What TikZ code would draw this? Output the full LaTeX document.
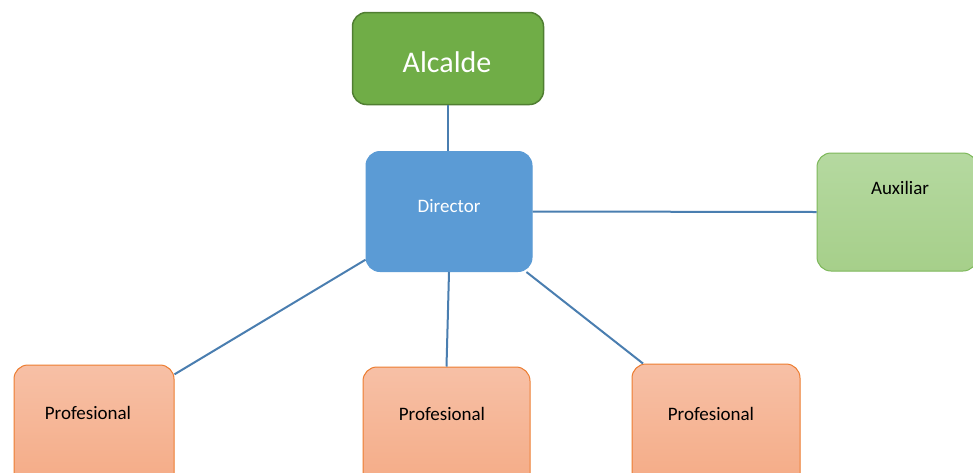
\documentclass[tikz,border=0pt]{standalone}
\usepackage{fontspec}
\setmainfont{Carlito}
\begin{document}
\begin{tikzpicture}[x=1pt,y=-1pt,
  conn/.style={draw=linecol,line width=2pt},
  boxbase/.style={rectangle,rounded corners=14pt,inner sep=0pt},
  alc/.style={boxbase,fill=alcfill,draw=alcdraw,line width=1.5pt},
  dir/.style={boxbase,fill=dirfill,draw=dirfill,line width=1pt},
  aux/.style={boxbase,top color=auxtop,bottom color=auxbot,draw=auxdraw,line width=1pt},
  prof/.style={boxbase,top color=proftop,bottom color=profbot,draw=profdraw,line width=1pt},
  lbl/.style={inner sep=0pt,anchor=center,font=\fontsize{19}{22}\selectfont}
]
\definecolor{linecol}{HTML}{4A7EB0}
\definecolor{alcfill}{HTML}{70AD47}
\definecolor{alcdraw}{HTML}{507E32}
\definecolor{dirfill}{HTML}{5B9BD5}
\definecolor{auxtop}{HTML}{B5D9A0}
\definecolor{auxbot}{HTML}{A6CF8A}
\definecolor{auxdraw}{HTML}{7DB85A}
\definecolor{proftop}{HTML}{F7C0A6}
\definecolor{profbot}{HTML}{F4A881}
\definecolor{profdraw}{HTML}{ED7D31}
\fill[white] (0,0) rectangle (973,472);
\useasboundingbox (0,0) rectangle (973,472);
\clip (0,0) rectangle (973,472);
% boxes
\node[alc,minimum width=191pt,minimum height=92pt] (alcalde) at (448,58.5) {};
\node[lbl,text=white,font=\fontsize{30}{34}\selectfont] (alcaldet) at (447,62) {Alcalde};
\node[dir,minimum width=166pt,minimum height=120pt] (director) at (449,211.5) {};
\node[lbl,text=white] (directort) at (449,206) {Director};
\node[aux,minimum width=160pt,minimum height=118pt] (auxiliar) at (897,212) {};
\node[lbl] (auxiliart) at (900,188) {Auxiliar};
\node[prof,minimum width=160pt,minimum height=140pt] (prof1) at (94,435) {};
\node[lbl] (prof1t) at (88,413) {Profesional};
\node[prof,minimum width=167pt,minimum height=140pt] (prof2) at (446.5,437) {};
\node[lbl] (prof2t) at (442,414) {Profesional};
\node[prof,minimum width=168pt,minimum height=140pt] (prof3) at (716,434) {};
\node[lbl] (prof3t) at (711,414) {Profesional};
% connectors
\draw[conn] (alcalde.south) -- (alcalde.south |- director.north);
\draw[conn] (director.east) -- (auxiliar.west);
\draw[conn] (director.210) -- (prof1.37);
\draw[conn] (director.south) -- (prof2.north);
\draw[conn] (director.-38) -- (prof3.136);
\end{tikzpicture}
\end{document}
